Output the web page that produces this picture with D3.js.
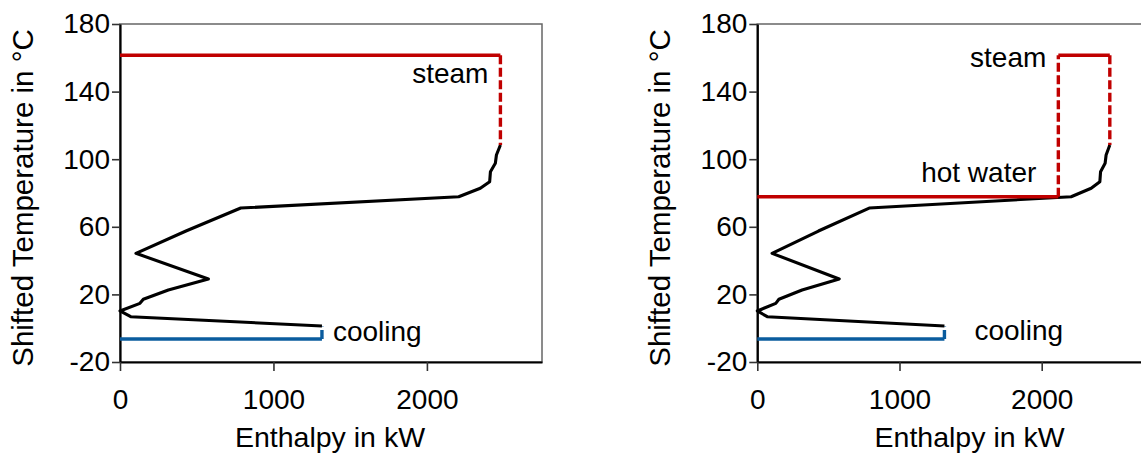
<!DOCTYPE html>
<html>
<head>
<meta charset="utf-8">
<script src="https://cdn.jsdelivr.net/npm/d3@7"></script>
<style>
  html, body { margin: 0; padding: 0; background: #fff; }
  svg { display: block; }
  text { font-family: "Liberation Sans", Arial, sans-serif; fill: #000; }
</style>
</head>
<body>
<svg id="chart" width="1141" height="455"></svg>
<script>
// Grand composite curve (shifted temperature vs. enthalpy)
const gccEnthalpy = [2479, 2453, 2446, 2414, 2409, 2348, 2207, 787, 430, 104, 576, 315, 152, 130, 0, 70, 1316];
const gccTemp     = [108.4, 102.5, 97.6, 92.6, 86.7, 82.8, 77.8, 71.1, 57.5, 44.3, 29.1, 22.6, 17.1, 14.7, 10.2, 6.8, 1.3];

// Utilities
const steamTemp = 161.5;
const steamEnthalpy = 2479;
const hotWaterTemp = 77.8;
const hotWaterEnthalpy = 2117;
const coolingTemp = -6.4;
const coolingEnthalpy = 1316;
const coolingCurveTemp = 1.3;
const gccTopTemp = 108.4;

// Axes
const tempTicks = [-20, 20, 60, 100, 140, 180];
const tempDomain = [-20, 180];
const enthalpyTicks = [0, 1000, 2000];
const leftEnthalpyMax = 2750;
const rightEnthalpyMax = 3000;

const svg = d3.select("#chart");
const RED = "#C00000", BLUE = "#0A5C9E";
const FONT = 28;
const plain = d => String(d);

function panel(opts) {
  const g = svg.append("g");
  const x = d3.scaleLinear().domain([0, opts.xMax]).range([opts.left, opts.left + opts.width]);
  const y = d3.scaleLinear().domain(tempDomain).range([362, 24]);

  // plot frame (top/right)
  g.append("rect")
    .attr("x", x(0)).attr("y", y(180))
    .attr("width", x(opts.xMax) - x(0)).attr("height", y(-20) - y(180))
    .attr("fill", "none").attr("stroke", "#666").attr("stroke-width", 1.5);

  // axes
  const ya = g.append("g").attr("transform", `translate(${x(0)},0)`)
    .call(d3.axisLeft(y).tickValues(tempTicks).tickSizeInner(8).tickSizeOuter(0).tickPadding(2)
      .tickFormat(plain));
  const xa = g.append("g").attr("transform", `translate(0,${y(-20)})`)
    .call(d3.axisBottom(x).tickValues(enthalpyTicks).tickSizeInner(9).tickSizeOuter(0).tickPadding(18)
      .tickFormat(plain));
  [ya, xa].forEach(a => {
    a.select(".domain").attr("stroke", "#000").attr("stroke-width", 2.2);
    a.selectAll(".tick line").attr("stroke", "#333").attr("stroke-width", 1.6);
    a.selectAll(".tick text").style("font-size", FONT + "px").style("font-family", "Liberation Sans, Arial, sans-serif").attr("fill", "#000");
  });

  // axis titles
  g.append("text")
    .attr("x", x(0) + opts.width / 2 - 1).attr("y", 447)
    .attr("text-anchor", "middle").style("font-size", "28.5px")
    .text("Enthalpy in kW");
  g.append("text")
    .attr("transform", `translate(${x(0) - 87},${(y(180) + y(-20)) / 2 + 5}) rotate(-90)`)
    .attr("text-anchor", "middle").style("font-size", "29.5px")
    .text("Shifted Temperature in °C");

  const line = d3.line().x(d => x(d[0])).y(d => y(d[1]));
  const seg = (pts, color, dashed, w) => g.append("path")
    .attr("d", line(pts)).attr("fill", "none").attr("stroke", color)
    .attr("stroke-width", w).attr("stroke-dasharray", dashed ? "9,3.5" : null);

  // cooling utility
  seg([[0, coolingTemp], [coolingEnthalpy, coolingTemp]], BLUE, false, 3.4);
  seg([[coolingEnthalpy, coolingTemp], [coolingEnthalpy, coolingCurveTemp]], BLUE, true, 3.4);

  // grand composite curve
  g.append("path")
    .attr("d", line(gccEnthalpy.map((h, i) => [h, gccTemp[i]])))
    .attr("fill", "none").attr("stroke", "#000").attr("stroke-width", 3.1)
    .attr("stroke-linejoin", "round");

  opts.hot(seg, x, y, g);

  return { x, y, g };
}

const label = (g, x, y, txt, anchor) => g.append("text")
  .attr("x", x).attr("y", y).attr("text-anchor", anchor || "start")
  .style("font-size", FONT + "px").text(txt);

// Left: steam only
panel({
  left: 120, width: 422, xMax: leftEnthalpyMax,
  hot: (seg, x, y, g) => {
    seg([[0, steamTemp], [steamEnthalpy, steamTemp]], RED, false, 3.4);
    seg([[steamEnthalpy, steamTemp], [steamEnthalpy, gccTopTemp]], RED, true, 3.4);
    label(g, x(steamEnthalpy) - 12, 83, "steam", "end");
    label(g, x(coolingEnthalpy) + 11, 340.5, "cooling");
  }
});

// Right: hot water + steam
panel({
  left: 757.3, width: 426.6, xMax: rightEnthalpyMax,
  hot: (seg, x, y, g) => {
    seg([[0, hotWaterTemp], [hotWaterEnthalpy, hotWaterTemp]], RED, false, 3.4);
    seg([[hotWaterEnthalpy, hotWaterTemp], [hotWaterEnthalpy, steamTemp]], RED, true, 3.4);
    seg([[hotWaterEnthalpy, steamTemp], [steamEnthalpy, steamTemp]], RED, false, 3.4);
    seg([[steamEnthalpy, steamTemp], [steamEnthalpy, gccTopTemp]], RED, true, 3.4);
    label(g, x(hotWaterEnthalpy) - 12, 67, "steam", "end");
    label(g, x(hotWaterEnthalpy) - 22, 181.7, "hot water", "end");
    label(g, x(coolingEnthalpy) + 30, 340, "cooling");
  }
});
</script>
</body>
</html>
